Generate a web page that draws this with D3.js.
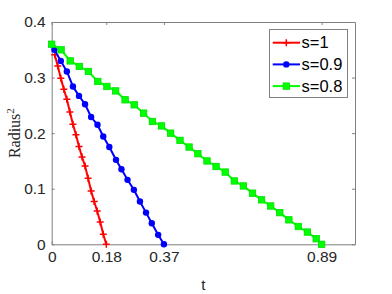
<!DOCTYPE html>
<html>
<head>
<meta charset="utf-8">
<script src="https://cdn.jsdelivr.net/npm/d3@7"></script>
<style>
  body { margin: 0; background: #fff; }
  text { font-family: "Liberation Sans", Arial, sans-serif; }
</style>
</head>
<body>
<div id="chart"></div>
<script>
// Data
const tRed = [0.01, 0.02, 0.03, 0.04, 0.05, 0.06, 0.07, 0.08, 0.09, 0.10, 0.11, 0.12, 0.13, 0.14, 0.15, 0.16, 0.17, 0.18];
const rRed = [0.341, 0.321, 0.299, 0.279, 0.261, 0.238, 0.216, 0.197, 0.176, 0.157, 0.141, 0.119, 0.096, 0.077, 0.060, 0.040, 0.018, 0];

const tBlue = [0.009, 0.030, 0.050, 0.070, 0.090, 0.110, 0.130, 0.151, 0.170, 0.190, 0.212, 0.230, 0.250, 0.271, 0.291, 0.311, 0.330, 0.351, 0.370];
const rBlue = [0.350, 0.330, 0.311, 0.284, 0.267, 0.252, 0.229, 0.215, 0.194, 0.175, 0.152, 0.135, 0.116, 0.098, 0.077, 0.057, 0.038, 0.017, 0];

const tGreen = [0, 0.031, 0.061, 0.091, 0.121, 0.152, 0.182, 0.211, 0.242, 0.272, 0.303, 0.332, 0.362, 0.392, 0.423, 0.453,
  0.482, 0.512, 0.542, 0.572, 0.602, 0.632, 0.662, 0.692, 0.722, 0.752, 0.782, 0.813, 0.843, 0.872, 0.89];
const rGreen = [0.360, 0.350, 0.330, 0.320, 0.311, 0.293, 0.284, 0.276, 0.260, 0.251, 0.236, 0.221, 0.213, 0.200, 0.187, 0.175,
  0.163, 0.150, 0.140, 0.130, 0.114, 0.105, 0.092, 0.080, 0.069, 0.057, 0.044, 0.032, 0.022, 0.010, 0];

const xTicks = [0, 0.18, 0.37, 0.89];
const yTicks = [0, 0.1, 0.2, 0.3, 0.4];
const seriesNames = ["s=1", "s=0.9", "s=0.8"];

const w = 392;
const h = 294;
const svg = d3.select("#chart").append("svg").attr("width", w).attr("height", h);

const x = d3.scaleLinear().domain([0, 1]).range([51.7, 355]);
const y = d3.scaleLinear().domain([0, 0.4]).range([244.3, 22]);

const axisColor = "#808080";
const labelColor = "#262626";

// axes (ticks inside, box on)
function styleAxis(g) {
  g.select(".domain").attr("stroke", axisColor);
  g.selectAll(".tick line").attr("stroke", axisColor);
  g.selectAll(".tick text").attr("fill", labelColor).style("font-size", "15.5px");
}

svg.append("g")
  .attr("transform", `translate(0,${y(0)})`)
  .call(d3.axisBottom(x).tickValues(xTicks).tickFormat(d => d === 0 ? "0" : d3.format(".2f")(d)).tickSizeInner(-3).tickSizeOuter(0).tickPadding(7))
  .call(styleAxis);

svg.append("g")
  .attr("transform", `translate(0,${y(0.4)})`)
  .call(d3.axisTop(x).tickValues(xTicks).tickFormat("").tickSizeInner(-3).tickSizeOuter(0))
  .call(styleAxis);

svg.append("g")
  .attr("transform", `translate(${x(0)},0)`)
  .call(d3.axisLeft(y).tickValues(yTicks).tickFormat(d => d === 0 ? "0" : d3.format(".1f")(d)).tickSizeInner(-3).tickSizeOuter(0).tickPadding(6))
  .call(styleAxis);

svg.append("g")
  .attr("transform", `translate(${x(1)},0)`)
  .call(d3.axisRight(y).tickValues(yTicks).tickFormat("").tickSizeInner(-3).tickSizeOuter(0))
  .call(styleAxis);

// axis labels
svg.append("text")
  .attr("x", x(0.5))
  .attr("y", 290)
  .attr("text-anchor", "middle")
  .attr("fill", labelColor)
  .style("font-size", "15px")
  .text("t");

const yl = svg.append("text")
  .attr("transform", `translate(20,${y(0.2)}) rotate(-90)`)
  .attr("text-anchor", "middle")
  .attr("fill", labelColor)
  .style("font-family", "'Liberation Serif', 'Times New Roman', serif")
  .style("font-size", "16px");
yl.append("tspan").text("Radius");
yl.append("tspan").attr("baseline-shift", "super").style("font-size", "11px").text("2");

// lines
const line = d3.line().x(d => x(d[0])).y(d => y(d[1]));
const series = [
  { name: seriesNames[0], color: "#ff0000", marker: "plus", pts: d3.zip(tRed, rRed) },
  { name: seriesNames[1], color: "#0000ff", marker: "circle", pts: d3.zip(tBlue, rBlue) },
  { name: seriesNames[2], color: "#00ff00", marker: "square", pts: d3.zip(tGreen, rGreen) }
];

function drawMarker(g, type, color, cx, cy) {
  if (type === "plus") {
    g.append("path")
      .attr("d", `M${cx - 3.5},${cy}H${cx + 3.5}M${cx},${cy - 3.5}V${cy + 3.5}`)
      .attr("stroke", color).attr("stroke-width", 1.5);
  } else if (type === "circle") {
    g.append("circle").attr("cx", cx).attr("cy", cy).attr("r", 3.2).attr("fill", color);
  } else {
    g.append("rect").attr("x", cx - 3.2).attr("y", cy - 3.2).attr("width", 6.4).attr("height", 6.4)
      .attr("fill", color).attr("stroke", "#00dd00").attr("stroke-width", 0.8);
  }
}

series.forEach(s => {
  svg.append("path")
    .datum(s.pts)
    .attr("fill", "none")
    .attr("stroke", s.color)
    .attr("stroke-width", 2)
    .attr("d", line);
  const g = svg.append("g");
  s.pts.forEach(p => drawMarker(g, s.marker, s.color, x(p[0]), y(p[1])));
});

// legend
const lg = svg.append("g");
lg.append("rect")
  .attr("x", 269.5).attr("y", 29.5).attr("width", 78).attr("height", 68)
  .attr("fill", "#fff").attr("stroke", axisColor);
series.forEach((s, i) => {
  const ly = 42.7 + i * 21.7;
  lg.append("line").attr("x1", 272.7).attr("x2", 300).attr("y1", ly).attr("y2", ly)
    .attr("stroke", s.color).attr("stroke-width", 2);
  drawMarker(lg, s.marker, s.color, 286.3, ly);
  lg.append("text").attr("x", 301.5).attr("y", ly + 5.5)
    .attr("fill", "#000").style("font-size", "16.5px").text(s.name);
});
</script>
</body>
</html>
